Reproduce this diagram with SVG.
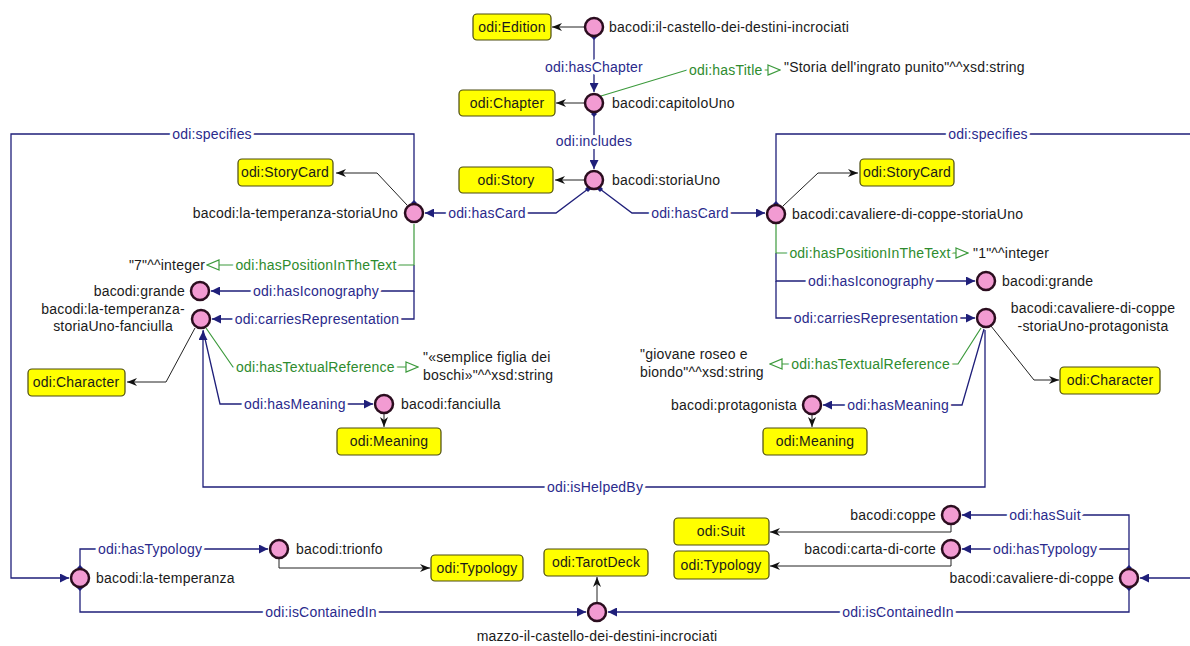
<svg xmlns="http://www.w3.org/2000/svg" width="1190" height="646" viewBox="0 0 1190 646">
<style>
  text { font-family: "Liberation Sans", Arial, sans-serif; font-size: 14px; letter-spacing: 0.2px; fill: #1a1a1a; }
  .n { fill: #f29bd2; stroke: #2b0d1f; stroke-width: 2.5; }
  .box { fill: #ffff00; stroke: #4a4a10; stroke-width: 1.2; }
  .bt { text-anchor: middle; }
  .e { fill: none; stroke: #1f1f7a; stroke-width: 1.3; }
  .g { fill: none; stroke: #3c9a3c; stroke-width: 1.2; }
  .k { fill: none; stroke: #222; stroke-width: 1; }
  .lb { fill: #2a2a8c; paint-order: stroke; stroke: #fff; stroke-width: 6px; stroke-linejoin: round; }
  .lg { fill: #2e8b2e; paint-order: stroke; stroke: #fff; stroke-width: 6px; stroke-linejoin: round; }
  .mid { text-anchor: middle; }
  .end { text-anchor: end; }
</style>
<defs>
  <marker id="tri" viewBox="0 0 10 10" refX="10" refY="5" markerWidth="10" markerHeight="9" markerUnits="userSpaceOnUse" orient="auto">
    <path d="M0,0 L10,5 L0,10 z" fill="#1f1f7a"/>
  </marker>
  <marker id="open" viewBox="0 0 14 12" refX="13" refY="6" markerWidth="14" markerHeight="12" markerUnits="userSpaceOnUse" orient="auto">
    <path d="M1,1 L13,6 L1,11 z" fill="#fff" stroke="#3c9a3c" stroke-width="1.2"/>
  </marker>
  <marker id="blk" viewBox="0 0 10 8" refX="10" refY="4" markerWidth="10" markerHeight="8" markerUnits="userSpaceOnUse" orient="auto">
    <path d="M0,0 L10,4 L0,8 L3,4 z" fill="#111"/>
  </marker>
  <marker id="dia" viewBox="0 0 6 6" refX="3" refY="3" markerWidth="6" markerHeight="6" markerUnits="userSpaceOnUse">
    <path d="M3,0 L6,3 L3,6 L0,3 z" fill="#1f1f7a"/>
  </marker>
</defs>
<rect width="1190" height="646" fill="#fff"/>

<g id="connectors">
  <!-- rdf:type links -->
  <path class="k" d="M584,27 L552,27" marker-end="url(#blk)"/>
  <path class="k" d="M584,103 L556,103" marker-end="url(#blk)"/>
  <path class="k" d="M584,180 L555,180" marker-end="url(#blk)"/>
  <path class="k" d="M407,205 L377,173 L336,173" marker-end="url(#blk)"/>
  <path class="k" d="M783,206 L818,173 L858,173" marker-end="url(#blk)"/>
  <path class="k" d="M195,328 L166,382 L127,382" marker-end="url(#blk)"/>
  <path class="k" d="M384,414 L384,427" marker-end="url(#blk)"/>
  <path class="k" d="M991,326 L1034,380 L1059,380" marker-end="url(#blk)"/>
  <path class="k" d="M812,415 L812,427" marker-end="url(#blk)"/>
  <path class="k" d="M279,559 L279,568 L430,568" marker-end="url(#blk)"/>
  <path class="k" d="M597,602 L597,577" marker-end="url(#blk)"/>
  <path class="k" d="M951,525 L951,532 L770,532" marker-end="url(#blk)"/>
  <path class="k" d="M951,559 L951,566 L770,566" marker-end="url(#blk)"/>

  <!-- object properties -->
  <path class="e" d="M594,37 L594,92" marker-start="url(#dia)" marker-end="url(#tri)"/>
  <path class="e" d="M594,114 L594,169" marker-start="url(#dia)" marker-end="url(#tri)"/>
  <path class="e" d="M588,189 L556,213 L425,213" marker-start="url(#dia)" marker-end="url(#tri)"/>
  <path class="e" d="M600,189 L632,213 L765,213" marker-start="url(#dia)" marker-end="url(#tri)"/>
  <path class="e" d="M414,203 L414,134 L11,134 L11,578 L69,578" marker-start="url(#dia)" marker-end="url(#tri)"/>
  <path class="e" d="M776,204 L776,134 L1190,134" marker-start="url(#dia)"/>
  <path class="e" d="M1190,578 L1140,578" marker-end="url(#tri)"/>
  <path class="e" d="M414,265 L414,291 L211,291" marker-end="url(#tri)"/>
  <path class="e" d="M414,291 L414,319 L212,319" marker-end="url(#tri)"/>
  <path class="e" d="M203,330 L220,404 L373,404" marker-end="url(#tri)"/>
  <path class="e" d="M985,330 L985,487 L203,487 L203,331" marker-end="url(#tri)"/>
  <path class="e" d="M776,253 L776,281 L975,281" marker-end="url(#tri)"/>
  <path class="e" d="M776,281 L776,318 L975,318" marker-end="url(#tri)"/>
  <path class="e" d="M984,329 L962,405 L823,405" marker-end="url(#tri)"/>
  <path class="e" d="M80,568 L80,549 L268,549" marker-start="url(#dia)" marker-end="url(#tri)"/>
  <path class="e" d="M80,588 L80,612 L586,612" marker-start="url(#dia)" marker-end="url(#tri)"/>
  <path class="e" d="M1129,568 L1129,515 L962,515" marker-start="url(#dia)" marker-end="url(#tri)"/>
  <path class="e" d="M1129,549 L962,549" marker-end="url(#tri)"/>
  <path class="e" d="M1129,588 L1129,612 L608,612" marker-start="url(#dia)" marker-end="url(#tri)"/>

  <!-- datatype properties -->
  <path class="g" d="M601,96 L687,70 L780,70" marker-end="url(#open)"/>
  <path class="g" d="M414,224 L414,265 L207,265" marker-end="url(#open)"/>
  <path class="g" d="M206,328 L233,367 L418,367" marker-end="url(#open)"/>
  <path class="g" d="M776,224 L776,253 L968,253" marker-end="url(#open)"/>
  <path class="g" d="M981,328 L958,364 L770,364" marker-end="url(#open)"/>

  <!-- property labels -->
  <text class="lb mid" x="594" y="72">odi:hasChapter</text>
  <text class="lb mid" x="594" y="146">odi:includes</text>
  <text class="lb mid" x="487" y="218">odi:hasCard</text>
  <text class="lb mid" x="690" y="218">odi:hasCard</text>
  <text class="lb mid" x="212" y="139">odi:specifies</text>
  <text class="lb mid" x="988" y="139">odi:specifies</text>
  <text class="lb mid" x="316" y="296">odi:hasIconography</text>
  <text class="lb mid" x="317" y="324">odi:carriesRepresentation</text>
  <text class="lb" x="244" y="409">odi:hasMeaning</text>
  <text class="lb mid" x="595" y="492">odi:isHelpedBy</text>
  <text class="lb mid" x="871" y="286">odi:hasIconography</text>
  <text class="lb mid" x="876" y="323">odi:carriesRepresentation</text>
  <text class="lb end" x="949" y="410">odi:hasMeaning</text>
  <text class="lb mid" x="150" y="554">odi:hasTypology</text>
  <text class="lb mid" x="321" y="617">odi:isContainedIn</text>
  <text class="lb mid" x="1045" y="520">odi:hasSuit</text>
  <text class="lb mid" x="1045" y="554">odi:hasTypology</text>
  <text class="lb mid" x="898" y="617">odi:isContainedIn</text>
  <text class="lg" x="689" y="75">odi:hasTitle</text>
  <text class="lg mid" x="316" y="270">odi:hasPositionInTheText</text>
  <text class="lg" x="236" y="372">odi:hasTextualReference</text>
  <text class="lg mid" x="870" y="258">odi:hasPositionInTheText</text>
  <text class="lg end" x="950" y="369">odi:hasTextualReference</text>

  <!-- literal values -->
  <text x="784" y="72">"Storia dell'ingrato punito"^^xsd:string</text>
  <text class="end" x="205" y="270">"7"^^integer</text>
  <text x="973" y="258">"1"^^integer</text>
  <text x="423" y="362">"«semplice figlia dei</text>
  <text x="423" y="380">boschi»"^^xsd:string</text>
  <text x="640" y="359">"giovane roseo e</text>
  <text x="640" y="377">biondo"^^xsd:string</text>
</g>

<!-- classes -->
<g id="cls-edition"><rect class="box" x="473" y="14" width="78" height="26" rx="4"/><text class="bt" x="512" y="32">odi:Edition</text></g>
<g id="cls-chapter"><rect class="box" x="459" y="90" width="96" height="26" rx="4"/><text class="bt" x="507" y="108">odi:Chapter</text></g>
<g id="cls-story"><rect class="box" x="459" y="167" width="94" height="26" rx="4"/><text class="bt" x="506" y="185">odi:Story</text></g>
<g id="cls-storycard-l"><rect class="box" x="238" y="159" width="95" height="27" rx="4"/><text class="bt" x="285" y="177">odi:StoryCard</text></g>
<g id="cls-storycard-r"><rect class="box" x="860" y="159" width="94" height="27" rx="4"/><text class="bt" x="907" y="177">odi:StoryCard</text></g>
<g id="cls-character-l"><rect class="box" x="28" y="369" width="97" height="27" rx="4"/><text class="bt" x="76" y="387">odi:Character</text></g>
<g id="cls-character-r"><rect class="box" x="1060" y="367" width="100" height="27" rx="4"/><text class="bt" x="1110" y="385">odi:Character</text></g>
<g id="cls-meaning-l"><rect class="box" x="337" y="428" width="104" height="27" rx="4"/><text class="bt" x="389" y="446">odi:Meaning</text></g>
<g id="cls-meaning-r"><rect class="box" x="763" y="428" width="104" height="27" rx="4"/><text class="bt" x="815" y="446">odi:Meaning</text></g>
<g id="cls-typology-l"><rect class="box" x="431" y="555" width="92" height="26" rx="4"/><text class="bt" x="477" y="573">odi:Typology</text></g>
<g id="cls-tarotdeck"><rect class="box" x="544" y="549" width="104" height="27" rx="4"/><text class="bt" x="596" y="567">odi:TarotDeck</text></g>
<g id="cls-suit"><rect class="box" x="674" y="518" width="95" height="27" rx="4"/><text class="bt" x="721" y="536">odi:Suit</text></g>
<g id="cls-typology-r"><rect class="box" x="674" y="551" width="95" height="28" rx="4"/><text class="bt" x="721" y="570">odi:Typology</text></g>

<!-- individuals -->
<g id="ind-castello"><circle class="n" cx="594" cy="27" r="9"/><text x="609" y="32">bacodi:il-castello-dei-destini-incrociati</text></g>
<g id="ind-capitoloUno"><circle class="n" cx="594" cy="103" r="9"/><text x="612" y="108">bacodi:capitoloUno</text></g>
<g id="ind-storiaUno"><circle class="n" cx="594" cy="180" r="9"/><text x="612" y="185">bacodi:storiaUno</text></g>
<g id="ind-temperanza-storiaUno"><circle class="n" cx="414" cy="213" r="9"/><text class="end" x="398" y="218">bacodi:la-temperanza-storiaUno</text></g>
<g id="ind-cavaliere-storiaUno"><circle class="n" cx="776" cy="214" r="9"/><text x="792" y="219">bacodi:cavaliere-di-coppe-storiaUno</text></g>
<g id="ind-grande-l"><circle class="n" cx="200" cy="291" r="9"/><text class="end" x="185" y="296">bacodi:grande</text></g>
<g id="ind-fanciulla-rep"><circle class="n" cx="201" cy="319" r="9"/><text class="mid" x="113" y="314">bacodi:la-temperanza-</text><text class="mid" x="113" y="331">storiaUno-fanciulla</text></g>
<g id="ind-fanciulla"><circle class="n" cx="384" cy="404" r="9"/><text x="401" y="409">bacodi:fanciulla</text></g>
<g id="ind-grande-r"><circle class="n" cx="986" cy="281" r="9"/><text x="1002" y="286">bacodi:grande</text></g>
<g id="ind-protagonista-rep"><circle class="n" cx="986" cy="318" r="9"/><text class="mid" x="1093" y="313">bacodi:cavaliere-di-coppe</text><text class="mid" x="1093" y="331">-storiaUno-protagonista</text></g>
<g id="ind-protagonista"><circle class="n" cx="812" cy="405" r="9"/><text class="end" x="797" y="410">bacodi:protagonista</text></g>
<g id="ind-temperanza"><circle class="n" cx="80" cy="578" r="9"/><text x="96" y="583">bacodi:la-temperanza</text></g>
<g id="ind-trionfo"><circle class="n" cx="279" cy="549" r="9"/><text x="296" y="554">bacodi:trionfo</text></g>
<g id="ind-mazzo"><circle class="n" cx="597" cy="612" r="9"/><text class="mid" x="597" y="641">mazzo-il-castello-dei-destini-incrociati</text></g>
<g id="ind-coppe"><circle class="n" cx="951" cy="515" r="9"/><text class="end" x="936" y="520">bacodi:coppe</text></g>
<g id="ind-carta-di-corte"><circle class="n" cx="951" cy="549" r="9"/><text class="end" x="936" y="554">bacodi:carta-di-corte</text></g>
<g id="ind-cavaliere"><circle class="n" cx="1129" cy="578" r="9"/><text class="end" x="1114" y="583">bacodi:cavaliere-di-coppe</text></g>
</svg>
